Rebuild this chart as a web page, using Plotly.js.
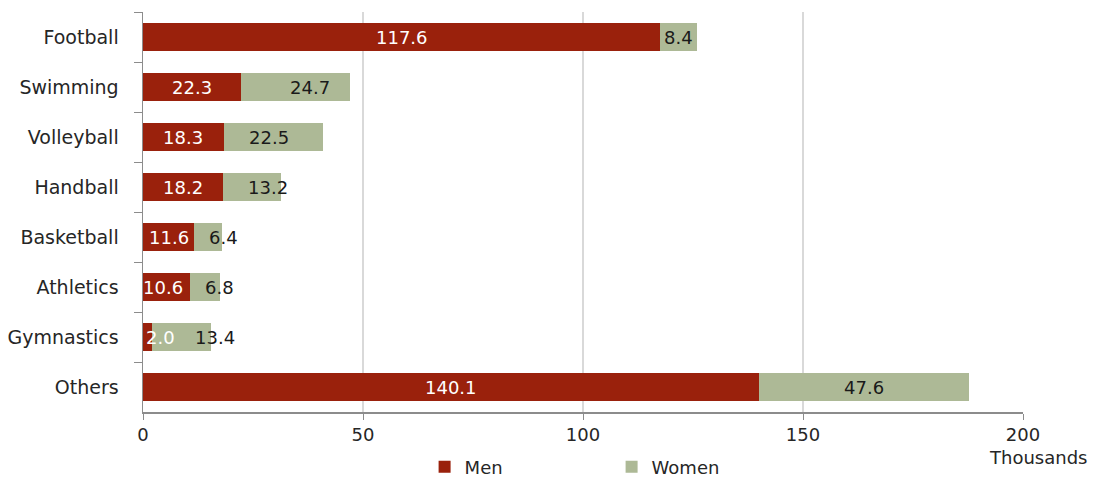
<!DOCTYPE html>
<html><head><meta charset="utf-8">
<script src="https://cdn.plot.ly/plotly-3.0.1.min.js"></script>
<style>body{margin:0;background:#fff}#c{width:1095px;height:479px}</style>
</head><body><div id="c"></div>
<script>
const sports = ["Football","Swimming","Volleyball","Handball","Basketball","Athletics","Gymnastics","Others"];
const men = [117.6, 22.3, 18.3, 18.2, 11.6, 10.6, 2.0, 140.1];
const women = [8.4, 24.7, 22.5, 13.2, 6.4, 6.8, 13.4, 47.6];
const xTicks = [0, 50, 100, 150, 200];
// label nudges in pixels (styling only, mimicking the reference label placement)
const menLabelShift = [0, 0, 0, 0, 0, -3, 13, 0];
const womenLabelShift = [0, 15, -4, 16, 15, 15, 34, 0];

const FONT = "DejaVu Sans, Verdana, sans-serif";
const annotations = [];
sports.forEach((s, i) => {
  annotations.push({x: men[i] / 2, y: s, xref: 'x', yref: 'y', xshift: menLabelShift[i], text: men[i].toFixed(1), showarrow: false,
    font: {family: FONT, size: 18, color: '#ffffff'}});
  annotations.push({x: men[i] + women[i] / 2, y: s, xref: 'x', yref: 'y', xshift: womenLabelShift[i], text: women[i].toFixed(1), showarrow: false,
    font: {family: FONT, size: 18, color: '#1a1a1a'}});
});
annotations.push({x: 200, y: 0, xref: 'x', yref: 'paper', xshift: 15, yshift: -45, text: 'Thousands', showarrow: false,
  font: {family: FONT, size: 18, color: '#262626'}, xanchor: 'center', yanchor: 'middle'});

const traces = [
  {type: 'bar', orientation: 'h', name: 'Men', y: sports, x: men, marker: {color: '#9a210c'}, hoverinfo: 'x+y'},
  {type: 'bar', orientation: 'h', name: 'Women', y: sports, x: women, marker: {color: '#adb996'}, hoverinfo: 'x+y'}
];

const layout = {
  width: 1095, height: 479,
  margin: {l: 143, r: 72, t: 12, b: 67},
  barmode: 'stack', bargap: 0.44,
  paper_bgcolor: '#fff', plot_bgcolor: '#fff',
  font: {family: FONT, size: 18, color: '#262626'},
  xaxis: {range: [0, 200], tickvals: xTicks, ticktext: xTicks.map(String), showgrid: true, gridcolor: '#d9d9d9', gridwidth: 2,
    zeroline: false, showline: true, linecolor: '#8c8c8c', linewidth: 1.5, ticks: 'outside', ticklen: 6, tickcolor: '#8c8c8c',
    tickfont: {size: 18}, fixedrange: true, automargin: false},
  yaxis: {type: 'category', categoryorder: 'array', categoryarray: sports, autorange: 'reversed',
    showline: true, linecolor: '#8c8c8c', linewidth: 1.5, ticks: 'outside', tickson: 'boundaries', ticklen: 8, tickcolor: '#8c8c8c',
    showgrid: false, tickfont: {size: 19}, ticklabelstandoff: 19, fixedrange: true, automargin: false},
  legend: {orientation: 'h', xref: 'paper', x: 0.32, xanchor: 'left', yref: 'container', y: 0.025, yanchor: 'middle', font: {size: 18},
    entrywidth: 142, entrywidthmode: 'pixels', itemwidth: 30, traceorder: 'normal'},
  annotations: annotations,
  showlegend: true
};
Plotly.newPlot('c', traces, layout, {displayModeBar: false, staticPlot: true});
</script></body></html>
